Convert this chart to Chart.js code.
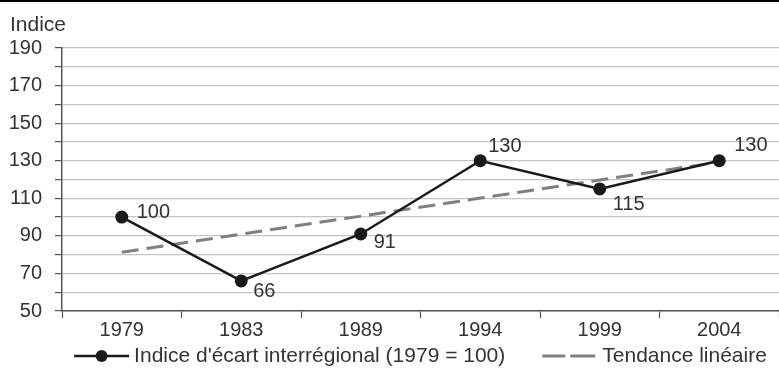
<!DOCTYPE html>
<html>
<head>
<meta charset="utf-8">
<script src="https://cdn.jsdelivr.net/npm/chart.js@4/dist/chart.umd.min.js"></script>
<style>
  html, body { margin: 0; padding: 0; background: #fff; }
  #wrap { width: 779px; height: 370px; }
</style>
</head>
<body>
<div id="wrap"><canvas id="chart"></canvas></div>
<script>
// data
var years = ["1979", "1983", "1989", "1994", "1999", "2004"];
var indexValues = [100, 66, 91, 130, 115, 130];
var trendValues = [81.3, 90.9, 100.5, 110.1, 119.7, 129.3];
var seriesNames = ["Indice d'\u00e9cart interr\u00e9gional (1979 = 100)", "Tendance lin\u00e9aire"];
var yTitle = "Indice";

// label offset (dx, dy) from each point, presentation only
var labelShift = [[15, -5], [12, 11], [13, 9], [8, -14], [13, 16], [15, -15]];

var FONT = "'Liberation Sans', Arial, sans-serif";
var TEXT = "#333333";
var LINE = "#1a1a1a";
var TREND = "#808080";

var decorPlugin = {
    id: "decor",
    afterDraw: function (chart) {
        var ctx = chart.ctx;
        var area = chart.chartArea;
        ctx.save();
        // top rule
        ctx.fillStyle = "#000";
        ctx.fillRect(0, 0, chart.width, 2);
        // axis title
        ctx.fillStyle = TEXT;
        ctx.font = "21px " + FONT;
        ctx.textAlign = "left";
        ctx.textBaseline = "middle";
        ctx.fillText(yTitle, 10, 25);
        // value labels
        ctx.font = "20px " + FONT;
        var meta = chart.getDatasetMeta(0);
        meta.data.forEach(function (pt, i) {
            ctx.fillText(String(indexValues[i]), pt.x + labelShift[i][0], pt.y + labelShift[i][1]);
        });

        // legend
        ctx.font = "21px " + FONT;
        var w1 = ctx.measureText(seriesNames[0]).width;
        var w2 = ctx.measureText(seriesNames[1]).width;
        var total = 55 + 5 + w1 + 37 + 53 + 7 + w2;
        var x = (area.left + area.right) / 2 - total / 2;
        var y = 356;
        ctx.strokeStyle = LINE;
        ctx.lineWidth = 2.5;
        ctx.beginPath();
        ctx.moveTo(x, y); ctx.lineTo(x + 55, y);
        ctx.stroke();
        ctx.fillStyle = LINE;
        ctx.beginPath();
        ctx.arc(x + 27.5, y, 6, 0, Math.PI * 2);
        ctx.fill();
        x += 60;
        ctx.fillStyle = TEXT;
        ctx.fillText(seriesNames[0], x, y);
        x += w1 + 37;
        ctx.strokeStyle = TREND;
        ctx.lineWidth = 3;
        ctx.beginPath();
        ctx.moveTo(x, y); ctx.lineTo(x + 23, y);
        ctx.moveTo(x + 28, y); ctx.lineTo(x + 53, y);
        ctx.stroke();
        x += 60;
        ctx.fillText(seriesNames[1], x, y);
        ctx.restore();
    }
};

var ctx = document.getElementById("chart");

var myChart = new Chart(ctx, {
    type: "line",
    data: {
        labels: years,
        datasets: [{
            label: seriesNames[0],
            data: indexValues,
            borderColor: LINE,
            backgroundColor: LINE,
            borderWidth: 2.5,
            pointStyle: "circle",
            pointRadius: 6.5,
            pointHoverRadius: 6.5,
            pointBorderWidth: 0,
            fill: false,
            tension: 0,
            order: 1
        }, {
            label: seriesNames[1],
            data: trendValues,
            borderColor: TREND,
            borderWidth: 3,
            borderDash: [17, 8],
            pointRadius: 0,
            fill: false,
            tension: 0,
            order: 2
        }]
    },
    options: {
        responsive: true,
        maintainAspectRatio: false,
        animation: false,
        layout: { autoPadding: false, padding: { top: 48, left: 0, right: -3, bottom: 0 } },
        plugins: {
            tooltip: { enabled: false },
            legend: { display: false }
        },
        scales: {
            x: {
                offset: true,
                grid: {
                    offset: true,
                    drawOnChartArea: false,
                    drawTicks: true,
                    tickLength: 7,
                    tickColor: "#555",
                    tickWidth: 1.2
                },
                border: { color: "#555", width: 1.5 },
                ticks: {
                    color: TEXT,
                    font: { family: FONT, size: 20 },
                    padding: 0,
                    maxRotation: 0
                },
                afterFit: function (scale) {
                    scale.height = 59;
                    scale.paddingLeft = 0;
                    scale.paddingRight = 0;
                }
            },
            y: {
                min: 50,
                max: 190,
                grid: {
                    color: "#c4c4c4",
                    lineWidth: 1.2,
                    drawTicks: true,
                    tickLength: 7,
                    tickColor: "#555",
                    tickWidth: 1.2
                },
                border: { color: "#555", width: 1.5 },
                ticks: {
                    stepSize: 10,
                    autoSkip: false,
                    color: TEXT,
                    font: { family: FONT, size: 20 },
                    padding: 13,
                    callback: function (v) {
                        return (v - 50) % 20 == 0 ? String(v) : "";
                    }
                },
                afterFit: function (scale) { scale.width = 62; }
            }
        }
    },
    plugins: [decorPlugin]
});
</script>
</body>
</html>
